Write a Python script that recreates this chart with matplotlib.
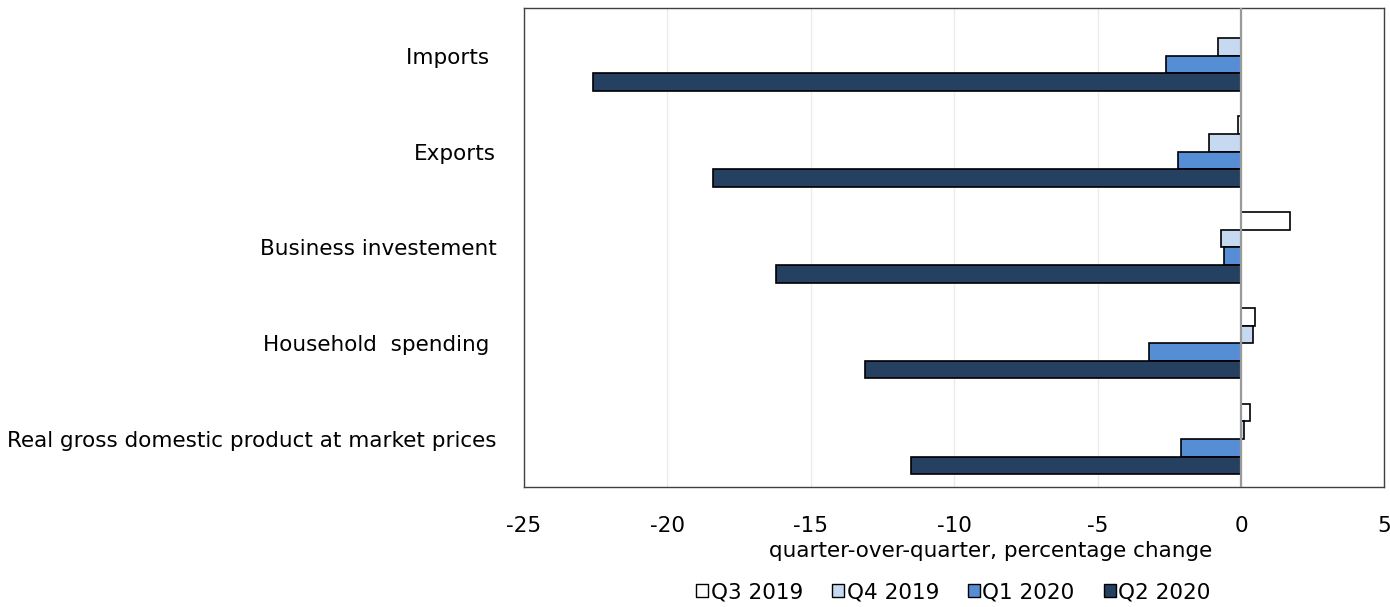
"""
    Real GDP and main expenditure components, quarterly change
"""
import numpy as np
from matplotlib import pyplot as plt
from matplotlib.patches import Patch

CATEGORIES = ["Real gross domestic product at market prices",
              "Household  spending ",
              "Business investement",
              "Exports",
              "Imports "]
QUARTERS = ["Q3 2019", "Q4 2019", "Q1 2020", "Q2 2020"]
COLORS = ["#FFFFFF", "#C6D9F1", "#558ED5", "#254061"]

# values in the same order as CATEGORIES (bottom to top)
q3_2019 = [0.3, 0.5, 1.7, -0.1, 0.0]
q4_2019 = [0.1, 0.4, -0.7, -1.1, -0.8]
q1_2020 = [-2.1, -3.2, -0.6, -2.2, -2.6]
q2_2020 = [-11.5, -13.1, -16.2, -18.4, -22.6]

BAR_H = 0.184
FS = 15.5


def draw(fig_path):
    plt.rcParams['font.family'] = ['DejaVu Sans']
    plt.rcParams['axes.unicode_minus'] = False
    fig = plt.figure(figsize=(13.9, 6.07), dpi=100)
    ax = fig.add_axes([0.377, 0.198, 0.619, 0.789])

    y = np.arange(len(CATEGORIES))
    series = [q3_2019, q4_2019, q1_2020, q2_2020]
    for ii, (vals, color, label) in enumerate(zip(series, COLORS, QUARTERS)):
        offset = (1.5 - ii) * BAR_H
        ax.barh(y + offset, vals, height=BAR_H, color=color,
                edgecolor="black", linewidth=1.2, label=label, zorder=3)

    ax.axvline(0, color="#9a9a9a", linewidth=1.6, zorder=4)
    ax.set_xlim(-25, 5)
    ax.set_ylim(-0.5, len(CATEGORIES) - 0.5)
    ax.set_xticks(np.arange(-25, 6, 5))
    ax.grid(axis="x", color="#ececec", linewidth=1.0, zorder=0)
    ax.set_yticks(y)
    ax.set_yticklabels(CATEGORIES, fontsize=FS)
    ax.tick_params(axis="y", length=0, pad=20)
    ax.tick_params(axis="x", length=0, pad=21, labelsize=FS)
    for spine in ax.spines.values():
        spine.set_color("#404040")
        spine.set_linewidth(1.0)
    ax.set_xlabel("quarter-over-quarter, percentage change", fontsize=FS)
    ax.xaxis.set_label_coords(0.542, -0.113)

    handles = [Patch(facecolor=c, edgecolor="black", linewidth=1.0) for c in COLORS]
    fig.legend(handles, QUARTERS, loc="center", bbox_to_anchor=(0.686, 0.024),
               ncol=4, frameon=False, fontsize=FS, handlelength=0.55,
               handleheight=0.55, handletextpad=0.12, columnspacing=1.35,
               borderpad=0.0)

    plt.savefig(fig_path, dpi=100)
    plt.close()


if __name__ == "__main__":
    draw("out.png")
